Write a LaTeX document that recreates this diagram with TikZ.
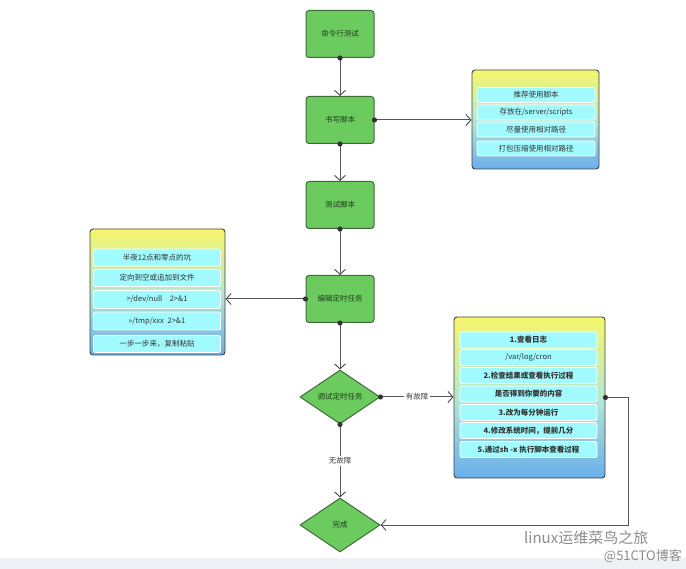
\documentclass[tikz,border=0pt]{standalone}
\usepackage{fontspec}
\setmainfont{Noto Sans CJK SC}
\usetikzlibrary{shapes.geometric,arrows.meta}
\definecolor{gfill}{HTML}{6CCB5F}
\definecolor{gdraw}{HTML}{3E6A38}
\definecolor{gtext}{HTML}{1E3A1A}
\definecolor{lnc}{HTML}{555555}
\definecolor{rowc}{HTML}{A0FAFE}
\definecolor{ytop}{HTML}{F6F66A}
\definecolor{bbot}{HTML}{6AAEEC}
\definecolor{bmid}{HTML}{B6E8D0}
\definecolor{strip}{HTML}{EEF2F6}
\tikzset{
  gbox/.style={draw=gdraw, line width=1pt, fill=gfill, rounded corners=3pt,
    minimum width=68pt, minimum height=47pt, text=gtext, font=\fontsize{7.5}{8}\selectfont},
  gdia/.style={diamond, draw=gdraw, line width=1pt, fill=gfill, aspect=1.5,
    minimum width=80pt, minimum height=54pt, inner sep=0pt, text=gtext, font=\fontsize{7.5}{8}\selectfont},
  infobox/.style={draw=black!75, line width=0.9pt, rounded corners=3pt,
    top color=ytop, bottom color=bbot, middle color=bmid},
  rowbox/.style={fill=rowc, draw=white, line width=0.8pt, rounded corners=2pt,
    minimum height=15pt, inner sep=0pt, text=black!80, font=\fontsize{7.5}{8}\selectfont},
  brow/.style={rowbox, minimum width=137pt, minimum height=16pt, font=\fontsize{7.5}{8}\selectfont\bfseries},
  conn/.style={draw=lnc, line width=1pt, -{Straight Barb[length=5pt,width=11pt]}},
  dotc/.style={fill=black!80},
  lbl/.style={fill=white, inner sep=1.5pt, text=black!75, font=\fontsize{7.5}{8}\selectfont}
}
\begin{document}
\begin{tikzpicture}[x=1pt,y=-1pt]
\useasboundingbox (0,0) rectangle (686,569);
\fill[strip] (0,558) rectangle (686,569);

% main flow
\node[gbox] (n1) at (340,34) {命令行测试};
\node[gbox] (n2) at (340,120) {书写脚本};
\node[gbox] (n3) at (340,205) {测试脚本};
\node[gbox] (n4) at (340,299) {编辑定时任务};
\node[gdia] (d1) at (340,397) {调试定时任务};
\node[gdia] (d2) at (340,525) {完成};

% box 1
\node[infobox, minimum width=127pt, minimum height=99pt] (b1) at (535.5,119.5) {};
\node[rowbox, minimum width=118pt] (b1r1) at (536,95) {推荐使用脚本};
\node[rowbox, minimum width=118pt] (b1r2) at (536,112.5) {存放在/server/scripts};
\node[rowbox, minimum width=118pt] (b1r3) at (536,129.5) {尽量使用相对路径};
\node[rowbox, minimum width=118pt] (b1r4) at (536,148.5) {打包压缩使用相对路径};

% left box
\node[infobox, minimum width=135pt, minimum height=126pt] (b3) at (157.5,292) {};
\node[rowbox, minimum width=127pt, minimum height=17pt] (b3r1) at (157,257.5) {半夜12点和零点的坑};
\node[rowbox, minimum width=127pt, minimum height=17pt] (b3r2) at (157,278) {定向到空或追加到文件};
\node[rowbox, minimum width=127pt, minimum height=18pt] (b3r3) at (157,299.5) {>/dev/null\quad 2>\&1};
\node[rowbox, minimum width=127pt, minimum height=18pt] (b3r4) at (157,321) {>>/tmp/xxx\enspace 2>\&1};
\node[rowbox, minimum width=127pt, minimum height=17pt] (b3r5) at (157,344) {一步一步来，复制粘贴};

% box 2
\node[infobox, minimum width=151pt, minimum height=161pt] (b2) at (529.5,397.5) {};
\node[brow] (b2r1) at (528.5,340) {1.查看日志};
\node[rowbox, minimum width=137pt, minimum height=16pt] (b2r2) at (528.5,357.5) {/var/log/cron};
\node[brow] (b2r3) at (528.5,375.5) {2.检查结果或查看执行过程};
\node[brow] (b2r4) at (528.5,394) {是否得到你要的内容};
\node[brow] (b2r5) at (528.5,412.5) {3.改为每分钟运行};
\node[brow] (b2r6) at (528.5,430.5) {4.修改系统时间，提前几分};
\node[brow] (b2r7) at (528.5,449.5) {5.通过sh -x 执行脚本查看过程};

% connectors
\draw[conn] (n1.south) -- (n2.north);
\draw[conn] (n2.south) -- (n3.north);
\draw[conn] (n3.south) -- (n4.north);
\draw[conn] (n4.south) -- (d1.north);
\draw[conn] (n2.east) -- (n2.east -| b1.west);
\draw[conn] (n4.west) -- (n4.west -| b3.east);
\draw[conn] (d1.east) -- node[lbl, pos=0.5] {有故障} (d1.east -| b2.west);
\draw[conn] (d1.south) -- node[lbl, pos=0.5] {无故障} (d2.north);
\coordinate (c1) at ([xshift=23pt]b2.east);
\draw[conn] (b2.east) -- (c1) |- (d2.east);

% start dots
\foreach \p in {n1.south,n2.south,n3.south,n4.south,n2.east,n4.west,d1.east,d1.south,b2.east}
  \fill[dotc] (\p) circle (2.6pt);

% watermark
\node[text=black!45, font=\fontsize{15}{15}\selectfont, anchor=west, inner sep=0pt] (w1) at (524,538) {linux运维菜鸟之旅};
\node[text=black!45, font=\fontsize{13}{13}\selectfont, anchor=east, inner sep=0pt] (w2) at (682,556) {@51CTO博客};
\end{tikzpicture}
\end{document}
